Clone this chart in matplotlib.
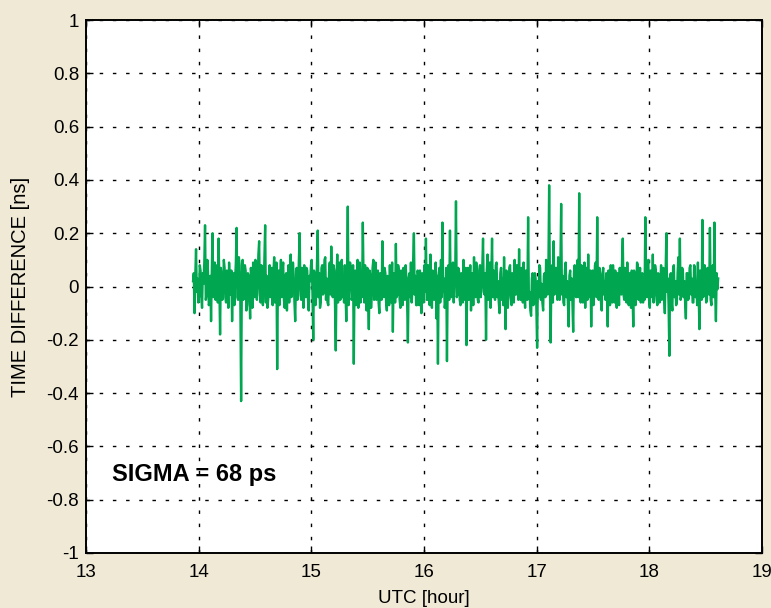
import numpy as np
import matplotlib
matplotlib.use('Agg')
import matplotlib.pyplot as plt

time_diff = [
    0.02, 0.05, -0.10, 0.04, 0.14, -0.02, 0.03, -0.06, -0.04, 0.08, 0.06, -0.03, -0.08, 0.05, 0.01, 0.09, 0.23, -0.05, -0.03, 0.10, 0.05, -0.07, -0.06, 0.04, -0.13,
    0.06, 0.20, -0.04, 0.02, 0.09, -0.05, 0.03, 0.08, -0.06, 0.18, 0.02, -0.18, 0.07, 0.04, -0.05, -0.02, 0.10, 0.07, -0.04, -0.06, 0.06, 0.03, -0.08, 0.09, 0.01,
    -0.03, 0.06, -0.13, 0.02, 0.05, -0.07, 0.02, 0.09, 0.22, -0.04, -0.05, 0.11, 0.08, -0.06, -0.43, 0.03, 0.10, -0.05, -0.02, 0.08, 0.06, -0.09, -0.07, 0.05, 0.04,
    -0.03, -0.12, 0.07, 0.03, -0.08, 0.09, -0.02, -0.04, 0.10, 0.07, -0.05, 0.01, 0.12, 0.17, -0.03, -0.06, 0.08, 0.05, -0.07, -0.02, 0.11, 0.23, -0.06, 0.04, -0.08,
    -0.05, 0.03, 0.08, -0.04, 0.02, 0.07, -0.07, 0.05, 0.11, -0.06, -0.03, 0.09, -0.31, 0.02, 0.06, -0.07, 0.03, 0.10, -0.04, 0.06, 0.09, -0.05, -0.08, 0.04, 0.05,
    -0.09, 0.01, 0.08, -0.06, 0.03, 0.12, -0.04, -0.02, 0.09, 0.04, -0.06, -0.13, 0.02, 0.07, -0.05, 0.00, 0.11, 0.20, -0.03, -0.05, 0.07, 0.03, -0.08, 0.08, -0.02,
    -0.04, 0.07, 0.06, -0.05, -0.09, 0.04, 0.02, 0.08, 0.10, -0.03, -0.20, 0.06, 0.04, -0.07, -0.03, 0.09, 0.21, -0.04, 0.05, -0.08, -0.06, 0.07, 0.08, -0.03, -0.02,
    0.10, 0.11, -0.05, 0.03, -0.06, -0.07, 0.05, 0.09, -0.03, 0.15, 0.02, -0.04, 0.08, 0.06, -0.07, -0.24, 0.04, 0.12, -0.06, 0.02, 0.09, -0.05, 0.03, 0.10, -0.04,
    0.04, -0.06, 0.08, -0.03, -0.13, 0.05, 0.30, -0.07, 0.03, 0.09, 0.07, -0.05, -0.04, 0.08, -0.29, 0.04, 0.06, -0.07, 0.02, 0.10, -0.08, 0.03, 0.09, -0.06, 0.05,
    -0.04, 0.24, 0.02, -0.06, 0.08, 0.03, -0.09, 0.07, -0.03, -0.16, 0.06, 0.04, -0.08, -0.02, 0.07, 0.10, -0.05, 0.01, 0.09, -0.05, 0.04, 0.06, -0.06, -0.10, 0.05,
    0.03, -0.05, 0.17, -0.02, -0.04, 0.07, 0.05, -0.06, -0.09, 0.04, 0.02, -0.07, 0.08, -0.03, -0.06, 0.09, -0.17, 0.05, 0.04, -0.06, 0.16, -0.04, -0.03, 0.08, 0.06,
    -0.05, -0.08, 0.06, 0.01, -0.07, 0.07, -0.03, -0.05, 0.08, 0.03, -0.06, -0.21, 0.03, 0.05, -0.04, 0.09, -0.06, -0.02, 0.10, 0.20, -0.03, 0.04, -0.07, -0.07, 0.06,
    0.02, -0.07, 0.06, -0.04, -0.10, 0.05, 0.04, -0.06, 0.08, -0.02, 0.18, -0.05, -0.05, 0.08, 0.03, -0.07, 0.12, -0.03, -0.08, 0.06, 0.05, -0.05, 0.01, 0.09, -0.12,
    0.04, -0.29, 0.05, 0.07, -0.06, 0.10, -0.04, 0.24, -0.02, 0.03, -0.08, -0.06, 0.07, -0.28, 0.03, 0.08, -0.05, 0.21, -0.03, -0.04, 0.08, 0.09, -0.06, 0.02, 0.05,
    0.32, -0.04, -0.03, 0.07, 0.06, -0.05, -0.07, 0.05, 0.04, -0.06, 0.10, -0.03, -0.05, 0.07, -0.22, 0.04, 0.07, -0.05, 0.02, 0.08, -0.09, 0.03, 0.05, -0.07, 0.11,
    -0.02, -0.04, 0.09, 0.03, -0.05, -0.06, 0.06, 0.08, -0.04, 0.01, 0.07, 0.18, -0.02, -0.03, 0.05, -0.20, 0.06, 0.12, -0.05, 0.04, 0.09, -0.08, 0.03, 0.18, -0.04,
    0.06, -0.03, -0.05, 0.08, 0.09, -0.04, 0.02, -0.06, -0.10, 0.05, 0.07, -0.05, 0.03, -0.07, 0.11, -0.02, -0.16, 0.06, 0.05, -0.08, -0.02, 0.07, 0.08, -0.04, -0.07,
    0.05, 0.04, -0.06, 0.10, -0.03, -0.03, 0.08, 0.06, -0.05, 0.14, -0.02, -0.05, 0.07, 0.02, -0.06, 0.09, -0.03, -0.08, 0.06, 0.04, -0.05, 0.26, -0.04, -0.02, -0.09,
    -0.11, 0.03, 0.05, -0.07, -0.06, 0.05, 0.03, -0.08, -0.23, 0.02, -0.04, 0.08, 0.07, -0.05, 0.01, -0.06, -0.09, 0.04, 0.05, -0.04, 0.10, -0.02, -0.03, 0.06, 0.38,
    0.01, -0.21, 0.04, 0.08, -0.06, 0.17, -0.03, -0.02, 0.07, 0.06, -0.05, 0.11, -0.04, -0.05, 0.08, 0.31, -0.03, 0.04, -0.06, -0.07, 0.06, 0.09, -0.04, 0.02, -0.07,
    -0.15, 0.04, 0.06, -0.05, 0.03, -0.06, -0.17, 0.05, 0.08, -0.03, -0.04, 0.07, 0.10, -0.04, 0.35, -0.02, -0.06, 0.08, 0.05, -0.06, 0.02, 0.09, -0.08, 0.03, 0.07,
    -0.05, 0.12, -0.04, -0.03, 0.06, -0.15, 0.03, 0.06, -0.07, 0.01, 0.08, 0.09, -0.04, 0.26, -0.03, -0.05, 0.07, 0.04, -0.06, -0.09, 0.05, 0.07, -0.03, 0.02, -0.05,
    0.05, -0.04, -0.15, 0.06, 0.03, -0.07, 0.08, -0.03, -0.06, 0.08, 0.02, -0.06, 0.06, -0.04, -0.08, 0.05, 0.04, -0.07, 0.07, -0.02, -0.03, 0.09, 0.18, -0.03, -0.05,
    0.07, 0.03, -0.06, 0.09, -0.04, -0.07, 0.05, 0.02, -0.08, 0.06, -0.03, -0.15, 0.06, 0.04, -0.07, -0.02, 0.09, 0.08, -0.05, 0.01, 0.07, -0.06, 0.04, 0.05, -0.06,
    0.03, -0.05, 0.26, -0.03, -0.04, 0.07, 0.10, -0.05, -0.08, 0.06, 0.05, -0.04, 0.12, -0.06, -0.02, 0.08, 0.06, -0.05, -0.07, 0.05, 0.04, -0.06, 0.01, 0.08, -0.05,
    0.04, 0.07, -0.04, -0.10, 0.05, 0.20, -0.02, 0.03, -0.07, -0.26, 0.04, 0.05, -0.06, -0.09, 0.07, 0.08, -0.04, 0.02, -0.07, -0.06, 0.05, 0.11, -0.03, 0.18, -0.05,
    -0.03, 0.07, 0.06, -0.04, 0.02, -0.06, -0.12, 0.05, 0.05, -0.05, -0.04, 0.07, 0.08, -0.03, 0.03, -0.06, -0.06, 0.08, 0.07, -0.04, 0.01, -0.07, 0.09, -0.02, -0.16,
    0.06, 0.05, -0.05, 0.25, -0.04, -0.03, 0.08, 0.06, -0.06, -0.05, 0.07, 0.04, -0.03, 0.22, -0.05, -0.07, 0.06, 0.08, -0.04, 0.24, -0.02, -0.13, 0.05, -0.01, 0.03,
]
t_start, t_end = 13.95, 18.61  # UTC hours
utc = np.linspace(t_start, t_end, len(time_diff))

x_ticks = [13, 14, 15, 16, 17, 18, 19]
y_ticks = [-1, -0.8, -0.6, -0.4, -0.2, 0, 0.2, 0.4, 0.6, 0.8, 1]
y_labels = ['-1', '-0.8', '-0.6', '-0.4', '-0.2', '0', '0.2', '0.4', '0.6', '0.8', '1']

plt.rcParams['font.family'] = ['Liberation Sans', 'DejaVu Sans']

fig = plt.figure(figsize=(7.71, 6.08), dpi=100, facecolor='#efe9d5')
ax = fig.add_axes((0.1115, 0.0905, 0.877, 0.8765))
ax.set_facecolor('white')

ax.plot(utc, time_diff, color='#00a650', lw=1.7)

ax.set_xlim(13, 19)
ax.set_ylim(-1, 1)
ax.set_xticks(x_ticks)
ax.set_yticks(y_ticks, labels=y_labels)
ax.grid(True, color='black', linestyle=(0, (2.5, 7)), lw=1.0)
ax.tick_params(direction='in', length=5, width=1, top=True, right=True,
               labelsize=13.5)
ax.tick_params(axis='x', pad=8)
ax.tick_params(axis='y', pad=5)
for sp in ax.spines.values():
    sp.set_linewidth(1.4)

ax.set_xlabel('UTC [hour]', fontsize=13.5)
ax.set_ylabel('TIME DIFFERENCE [ns]', fontsize=14.5)
ax.xaxis.set_label_coords(0.5, -0.069)
ax.yaxis.set_label_coords(-0.083, 0.5)
ax.text(13.23, -0.705, 'SIGMA = 68 ps', fontsize=17, fontweight='bold',
        va='center', ha='left')

fig.savefig('out.png', dpi=100, facecolor=fig.get_facecolor())
